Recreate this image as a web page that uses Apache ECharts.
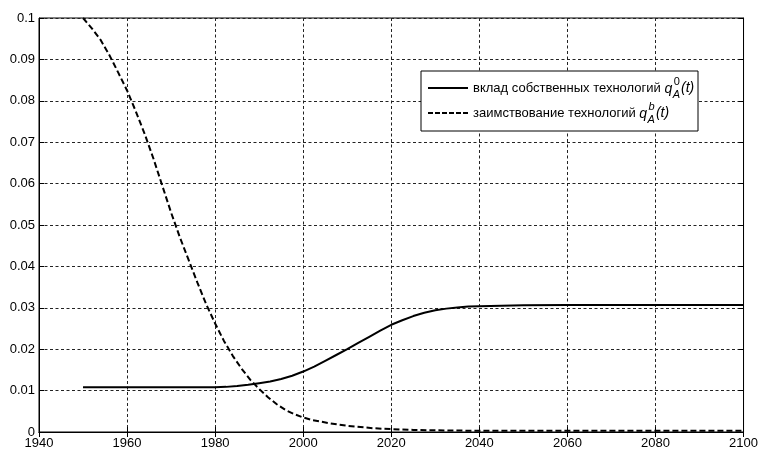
<!DOCTYPE html>
<html>
<head>
<meta charset="utf-8">
<script src="https://cdn.jsdelivr.net/npm/echarts@6/dist/echarts.min.js"></script>
<style>
html,body{margin:0;padding:0;background:#fff;}
#chart{width:761px;height:451px;}
</style>
</head>
<body>
<div id="chart"></div>
<script>
// Years and values of the two contributions
var ownYears = [1950, 1980, 1982.5, 1985, 1987.5, 1990, 1992.5, 1995, 1997.5, 2000, 2002.5, 2005, 2007.5, 2010, 2012.5, 2015, 2017.5, 2020, 2022.5, 2025, 2027.5, 2030, 2032.5, 2035, 2037.5, 2040, 2045, 2050, 2060, 2080, 2100];
var ownValues = [0.0108, 0.0108, 0.0109, 0.0111, 0.0114, 0.0118, 0.0122, 0.0128, 0.0136, 0.0146, 0.0158, 0.0172, 0.0186, 0.0200, 0.0215, 0.0230, 0.0245, 0.0259, 0.0270, 0.0280, 0.0288, 0.0294, 0.0298, 0.0301, 0.0303, 0.0304, 0.0305, 0.0306, 0.0307, 0.0307, 0.0307];

var borrowYears = [1950, 1952, 1954, 1956, 1958, 1960, 1962, 1964, 1966, 1968, 1970, 1972, 1974, 1976, 1978, 1980, 1982, 1984, 1986, 1988, 1990, 1992, 1994, 1996, 1998, 2000, 2002, 2004, 2006, 2008, 2010, 2012, 2014, 2016, 2018, 2020, 2025, 2030, 2040, 2060, 2080, 2100];
var borrowValues = [0.1000, 0.0975, 0.0947, 0.0910, 0.0868, 0.0825, 0.0774, 0.0720, 0.0660, 0.0595, 0.0530, 0.0470, 0.0415, 0.0360, 0.0308, 0.0262, 0.0220, 0.0184, 0.0153, 0.0126, 0.0104, 0.0084, 0.0067, 0.0053, 0.0043, 0.0035, 0.0029, 0.0025, 0.0021, 0.0018, 0.0015, 0.0013, 0.0011, 0.0009, 0.0008, 0.0007, 0.0005, 0.0004, 0.0003, 0.0003, 0.0003, 0.0003];

var seriesNames = ['вклад собственных технологий ', 'заимствование технологий '];
var seriesSup = ['0', 'b'];
var seriesSub = ['A', 'A'];

var xTicks = ['1940', '1960', '1980', '2000', '2020', '2040', '2060', '2080', '2100'];
var yTicks = ['0', '0.01', '0.02', '0.03', '0.04', '0.05', '0.06', '0.07', '0.08', '0.09', '0.1'];

function pairs(xs, ys) {
  return xs.map(function (x, i) { return [x, ys[i]]; });
}

var FONT = 'Liberation Sans, Arial, sans-serif';
var chart = echarts.init(document.getElementById('chart'), null, { renderer: 'canvas' });

var grid = { left: 39, right: 14, top: 18, bottom: 19 };
var gridLine = { show: true, lineStyle: { color: '#222', width: 1, type: [3, 2.5] } };

// text width helper for laying out the legend math
var measureCtx = document.createElement('canvas').getContext('2d');
function textWidth(str, font) {
  measureCtx.font = font;
  return measureCtx.measureText(str).width;
}

// legend box drawn as graphic elements
var legendLeft = 421, legendTop = 71, legendW = 277, legendH = 60;
var rowY = [88, 113];
var legendEls = [{
  type: 'rect', shape: { x: legendLeft, y: legendTop, width: legendW, height: legendH },
  style: { fill: '#fff', stroke: '#000', lineWidth: 1 }, z: 100
}];
var normalFont = '13px ' + FONT;
var italicFont = 'italic 14px ' + FONT;
var smallFont = '11px ' + FONT;
var smallItalic = 'italic 11px ' + FONT;
for (var i = 0; i < 2; i++) {
  var y = rowY[i];
  legendEls.push({
    type: 'line', shape: { x1: 428, y1: y, x2: 468, y2: y },
    style: { stroke: '#000', lineWidth: 2, lineDash: i === 0 ? null : [5, 2] }, z: 101
  });
  var tx = 473;
  legendEls.push({
    type: 'text', x: tx, y: y,
    style: { text: seriesNames[i], font: normalFont, fill: '#000', verticalAlign: 'middle', align: 'left' }, z: 101
  });
  tx += textWidth(seriesNames[i], normalFont);
  legendEls.push({
    type: 'text', x: tx, y: y + 1,
    style: { text: 'q', font: italicFont, fill: '#000', verticalAlign: 'middle', align: 'left' }, z: 101
  });
  tx += textWidth('q', italicFont) + 0.5;
  var supFont = i === 0 ? smallFont : smallItalic;
  legendEls.push({
    type: 'text', x: tx + 1, y: y - 6,
    style: { text: seriesSup[i], font: supFont, fill: '#000', verticalAlign: 'middle', align: 'left' }, z: 101
  });
  legendEls.push({
    type: 'text', x: tx, y: y + 7,
    style: { text: seriesSub[i], font: smallItalic, fill: '#000', verticalAlign: 'middle', align: 'left' }, z: 101
  });
  tx += Math.max(textWidth(seriesSup[i], supFont) + 1, textWidth(seriesSub[i], smallItalic)) + 1;
  legendEls.push({
    type: 'text', x: tx, y: y,
    style: { text: '(t)', font: italicFont, fill: '#000', verticalAlign: 'middle', align: 'left' }, z: 101
  });
}

var option = {
  backgroundColor: '#fff',
  animation: false,
  grid: Object.assign({ show: true, borderColor: '#000', borderWidth: 1, backgroundColor: '#fff' }, grid),
  xAxis: [{
    type: 'value', min: 1940, max: 2100, interval: 20,
    axisLine: { show: true, onZero: false, lineStyle: { color: '#000', width: 1 } },
    axisTick: { show: true, inside: true, length: 5, lineStyle: { color: '#000' } },
    axisLabel: {
      color: '#000', fontSize: 13, fontFamily: FONT, margin: 5,
      formatter: function (v) { return xTicks[Math.round((v - 1940) / 20)]; }
    },
    splitLine: gridLine
  }, {
    type: 'value', position: 'top', min: 1940, max: 2100, interval: 20,
    axisLine: { show: true, lineStyle: { color: '#000' } },
    axisTick: { show: true, inside: true, length: 5, lineStyle: { color: '#000' } },
    axisLabel: { show: false }, splitLine: { show: false }
  }],
  yAxis: [{
    type: 'value', min: 0, max: 0.1, interval: 0.01,
    axisLine: { show: true, onZero: false, lineStyle: { color: '#000', width: 1 } },
    axisTick: { show: true, inside: true, length: 5, lineStyle: { color: '#000' } },
    axisLabel: {
      color: '#000', fontSize: 13, fontFamily: FONT, margin: 4,
      formatter: function (v) { return yTicks[Math.round(v / 0.01)]; }
    },
    splitLine: gridLine
  }, {
    type: 'value', position: 'right', min: 0, max: 0.1, interval: 0.01,
    axisLine: { show: true, lineStyle: { color: '#000' } },
    axisTick: { show: true, inside: true, length: 5, lineStyle: { color: '#000' } },
    axisLabel: { show: false }, splitLine: { show: false }
  }],
  series: [{
    name: seriesNames[0], type: 'line', data: pairs(ownYears, ownValues),
    smooth: false, showSymbol: false,
    lineStyle: { color: '#000', width: 2 }, z: 5
  }, {
    name: seriesNames[1], type: 'line', data: pairs(borrowYears, borrowValues),
    smooth: false, showSymbol: false,
    lineStyle: { color: '#000', width: 2, type: [6, 3] }, z: 5
  }],
  graphic: legendEls
};
chart.setOption(option);
</script>
</body>
</html>
